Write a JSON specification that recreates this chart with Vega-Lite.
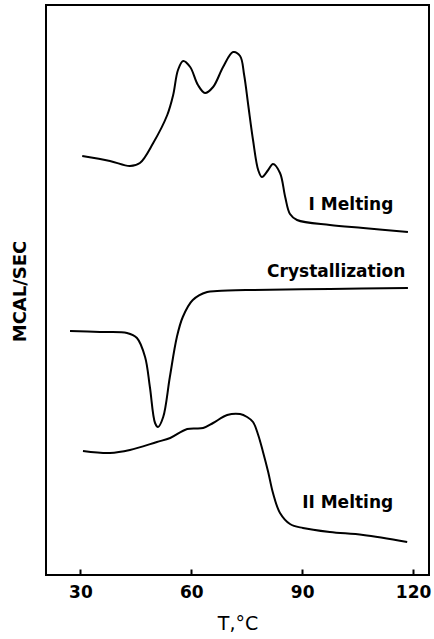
{
  "$schema": "https://vega.github.io/schema/vega-lite/v6.json",
  "width": 383,
  "height": 570,
  "autosize": {"type": "none"},
  "padding": {"left": 46, "top": 5, "right": 5, "bottom": 64},
  "background": "white",
  "config": {
    "view": {"stroke": "black", "strokeWidth": 2},
    "font": "DejaVu Sans"
  },
  "datasets": {
    "curves": [
      {"curve": "I Melting", "T": 30.5, "value": 419},
      {"curve": "I Melting", "T": 38.0, "value": 414},
      {"curve": "I Melting", "T": 43.4, "value": 409},
      {"curve": "I Melting", "T": 46.1, "value": 412},
      {"curve": "I Melting", "T": 49.7, "value": 432},
      {"curve": "I Melting", "T": 53.5, "value": 460},
      {"curve": "I Melting", "T": 55.1, "value": 480},
      {"curve": "I Melting", "T": 56.4, "value": 505},
      {"curve": "I Melting", "T": 57.8, "value": 514},
      {"curve": "I Melting", "T": 59.7, "value": 508},
      {"curve": "I Melting", "T": 61.8, "value": 490},
      {"curve": "I Melting", "T": 63.7, "value": 482},
      {"curve": "I Melting", "T": 65.9, "value": 488},
      {"curve": "I Melting", "T": 68.6, "value": 508},
      {"curve": "I Melting", "T": 71.3, "value": 523},
      {"curve": "I Melting", "T": 73.2, "value": 519},
      {"curve": "I Melting", "T": 74.3, "value": 500},
      {"curve": "I Melting", "T": 75.4, "value": 470},
      {"curve": "I Melting", "T": 76.7, "value": 435},
      {"curve": "I Melting", "T": 78.1, "value": 405},
      {"curve": "I Melting", "T": 79.1, "value": 398},
      {"curve": "I Melting", "T": 80.8, "value": 405},
      {"curve": "I Melting", "T": 82.1, "value": 411},
      {"curve": "I Melting", "T": 84.0, "value": 402},
      {"curve": "I Melting", "T": 85.4, "value": 378},
      {"curve": "I Melting", "T": 86.7, "value": 361},
      {"curve": "I Melting", "T": 88.6, "value": 355},
      {"curve": "I Melting", "T": 97.5, "value": 350},
      {"curve": "I Melting", "T": 106.5, "value": 347},
      {"curve": "I Melting", "T": 118.6, "value": 343},
      {"curve": "Crystallization", "T": 27.2, "value": 244},
      {"curve": "Crystallization", "T": 35.3, "value": 243},
      {"curve": "Crystallization", "T": 42.6, "value": 242},
      {"curve": "Crystallization", "T": 45.3, "value": 237},
      {"curve": "Crystallization", "T": 47.5, "value": 218},
      {"curve": "Crystallization", "T": 48.8, "value": 188},
      {"curve": "Crystallization", "T": 50.2, "value": 152},
      {"curve": "Crystallization", "T": 51.0, "value": 148},
      {"curve": "Crystallization", "T": 52.4, "value": 158},
      {"curve": "Crystallization", "T": 54.2, "value": 198},
      {"curve": "Crystallization", "T": 56.1, "value": 238},
      {"curve": "Crystallization", "T": 57.7, "value": 258},
      {"curve": "Crystallization", "T": 60.4, "value": 275},
      {"curve": "Crystallization", "T": 64.3, "value": 283},
      {"curve": "Crystallization", "T": 67.0, "value": 284},
      {"curve": "Crystallization", "T": 75.9, "value": 285},
      {"curve": "Crystallization", "T": 97.5, "value": 286},
      {"curve": "Crystallization", "T": 118.6, "value": 287},
      {"curve": "II Melting", "T": 30.7, "value": 124},
      {"curve": "II Melting", "T": 38.0, "value": 122},
      {"curve": "II Melting", "T": 43.4, "value": 125},
      {"curve": "II Melting", "T": 50.7, "value": 133},
      {"curve": "II Melting", "T": 54.3, "value": 137},
      {"curve": "II Melting", "T": 58.9, "value": 146},
      {"curve": "II Melting", "T": 63.2, "value": 147},
      {"curve": "II Melting", "T": 65.9, "value": 152},
      {"curve": "II Melting", "T": 69.7, "value": 160},
      {"curve": "II Melting", "T": 73.2, "value": 161},
      {"curve": "II Melting", "T": 75.1, "value": 158},
      {"curve": "II Melting", "T": 76.7, "value": 153},
      {"curve": "II Melting", "T": 78.1, "value": 140},
      {"curve": "II Melting", "T": 79.4, "value": 123},
      {"curve": "II Melting", "T": 80.8, "value": 103},
      {"curve": "II Melting", "T": 82.1, "value": 82},
      {"curve": "II Melting", "T": 84.0, "value": 62},
      {"curve": "II Melting", "T": 86.7, "value": 51},
      {"curve": "II Melting", "T": 90.2, "value": 47},
      {"curve": "II Melting", "T": 97.5, "value": 43},
      {"curve": "II Melting", "T": 106.5, "value": 40},
      {"curve": "II Melting", "T": 118.4, "value": 33}
    ],
    "labels": [
      {"label": "I Melting", "T": 103.2, "value": 365},
      {"label": "Crystallization", "T": 99.2, "value": 298},
      {"label": "II Melting", "T": 102.3, "value": 67}
    ]
  },
  "layer": [
    {
      "data": {"name": "curves"},
      "mark": {"type": "line", "color": "black", "strokeWidth": 2, "interpolate": "catmull-rom"},
      "encoding": {
        "x": {
          "field": "T", "type": "quantitative",
          "scale": {"domain": [20.7, 124.3], "nice": false, "zero": false},
          "axis": {
            "title": "T,°C",
            "values": [30, 60, 90, 120],
            "grid": false,
            "domain": false,
            "tickSize": -6,
            "tickWidth": 2,
            "tickColor": "black",
            "labelFont": "DejaVu Sans",
            "labelFontWeight": "bold",
            "labelFontSize": 17,
            "labelColor": "black",
            "labelPadding": 15,
            "titleFont": "DejaVu Sans",
            "titleFontWeight": "normal",
            "titleFontSize": 19,
            "titleColor": "black",
            "titleY": 54,
            "titleBaseline": "alphabetic"
          }
        },
        "y": {
          "field": "value", "type": "quantitative",
          "scale": {"domain": [0, 570], "nice": false, "zero": false},
          "axis": {
            "title": "MCAL/SEC",
            "grid": false,
            "domain": false,
            "ticks": false,
            "labels": false,
            "titleFont": "DejaVu Sans",
            "titleFontWeight": "bold",
            "titleFontSize": 18,
            "titleColor": "black",
            "titleAngle": -90,
            "titleX": -21,
            "titleY": 286,
            "titleAlign": "center",
            "titleBaseline": "alphabetic"
          }
        },
        "detail": {"field": "curve", "type": "nominal"}
      }
    },
    {
      "data": {"name": "labels"},
      "mark": {"type": "text", "font": "DejaVu Sans", "fontWeight": "bold", "fontSize": 17, "color": "black", "align": "center", "baseline": "alphabetic"},
      "encoding": {
        "x": {"field": "T", "type": "quantitative"},
        "y": {"field": "value", "type": "quantitative"},
        "text": {"field": "label", "type": "nominal"}
      }
    }
  ]
}
